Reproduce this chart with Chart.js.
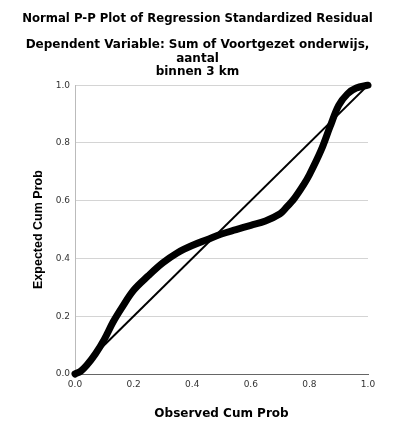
<!DOCTYPE html>
<html>
<head>
<meta charset="utf-8">
<script src="https://cdn.jsdelivr.net/npm/chart.js@4/dist/chart.umd.min.js"></script>
<style>
    html, body { margin: 0; padding: 0; background: #fff; }
    #wrap { width: 395px; height: 421px; }
</style>
</head>
<body>
<div id="wrap"><canvas id="ppChart" width="395" height="421"></canvas></div>
<script>
// observed vs expected cumulative probability
const observedCum = [0, 0.02, 0.04, 0.07, 0.10, 0.13, 0.16, 0.20, 0.25, 0.30, 0.35, 0.40, 0.45, 0.50,
    0.55, 0.60, 0.65, 0.70, 0.72, 0.75, 0.78, 0.80, 0.84, 0.87, 0.90, 0.93, 0.96, 1.0];
const expectedCum = [0, 0.01, 0.03, 0.07, 0.12, 0.18, 0.23, 0.29, 0.34, 0.385, 0.42, 0.445, 0.465, 0.485,
    0.50, 0.515, 0.53, 0.555, 0.575, 0.61, 0.655, 0.69, 0.775, 0.855, 0.93, 0.97, 0.99, 1.0];
const refLineX = [0, 1];
const refLineY = [0, 1];
const tickValues = [0, 0.2, 0.4, 0.6, 0.8, 1.0];

const titleText = 'Normal P-P Plot of Regression Standardized Residual';
const subtitleLines = ['Dependent Variable: Sum of Voortgezet onderwijs,', 'aantal', 'binnen 3 km'];

const toPoints = (xs, ys) => xs.map((x, i) => ({ x: x, y: ys[i] }));

// the source picture is a bit stretched sideways, DejaVu is the wider face
const tickFont = { family: 'DejaVu Sans, sans-serif', size: 9 };
const titleFont = { family: 'DejaVu Sans, sans-serif', size: 11.7, weight: 'bold', lineHeight: 1.18 };
const boldFont = { family: 'DejaVu Sans, sans-serif', size: 12, weight: 'bold', lineHeight: 1.15 };
const yTitleFont = { family: 'Liberation Sans, Arial, sans-serif', size: 12.5, weight: 'bold', lineHeight: 1.15 };

new Chart(document.getElementById('ppChart'), {
    type: 'scatter',
    data: {
        datasets: [
            {
                label: 'Observed',
                data: toPoints(observedCum, expectedCum),
                showLine: true,
                borderColor: '#000',
                borderWidth: 7,
                borderCapStyle: 'round',
                borderJoinStyle: 'round',
                tension: 0.35,
                pointRadius: 0,
                clip: false,
            },
            {
                label: 'Reference',
                data: toPoints(refLineX, refLineY),
                showLine: true,
                borderColor: '#000',
                borderWidth: 2,
                pointRadius: 0,
            },
        ]
    },
    options: {
        responsive: false,
        animation: false,
        layout: { padding: 0 },
        plugins: {
            legend: { display: false },
            tooltip: { enabled: false },
            title: {
                display: true,
                text: titleText,
                color: '#000',
                font: titleFont,
                padding: { top: 12, bottom: 6 },
            },
            subtitle: {
                display: true,
                text: subtitleLines,
                color: '#000',
                font: boldFont,
                padding: { top: 6, bottom: 6 },
            },
        },
        scales: {
            x: {
                type: 'linear',
                min: 0,
                max: 1,
                afterBuildTicks: axis => { axis.ticks = tickValues.map(v => ({ value: v })); },
                afterFit: axis => { axis.height = 47; },
                grid: { display: false, drawTicks: false },
                border: { color: '#666', width: 1 },
                ticks: {
                    color: '#333',
                    font: tickFont,
                    padding: 5,
                    maxRotation: 0,
                    callback: v => v.toFixed(1),
                },
                title: {
                    display: true,
                    text: 'Observed Cum Prob',
                    color: '#000',
                    font: boldFont,
                    padding: { top: 8, bottom: 0 },
                },
            },
            y: {
                type: 'linear',
                min: 0,
                max: 1,
                afterBuildTicks: axis => { axis.ticks = tickValues.map(v => ({ value: v })); },
                afterFit: axis => { axis.width = 75; },
                grid: { color: '#d4d4d4', lineWidth: 1, drawTicks: false },
                border: { color: '#bbb', width: 1 },
                ticks: {
                    color: '#333',
                    font: tickFont,
                    padding: 5,
                    callback: v => v.toFixed(1),
                },
                title: {
                    display: true,
                    text: 'Expected Cum Prob',
                    color: '#000',
                    font: yTitleFont,
                    padding: { top: 31, bottom: 0 },
                },
            },
            // empty right strip so the titles centre on the whole picture
            yRight: {
                type: 'linear',
                position: 'right',
                display: true,
                afterFit: axis => { axis.width = 27; },
                grid: { display: false, drawTicks: false },
                border: { display: false },
                ticks: { display: false },
            },
        },
    },
});
</script>
</body>
</html>
